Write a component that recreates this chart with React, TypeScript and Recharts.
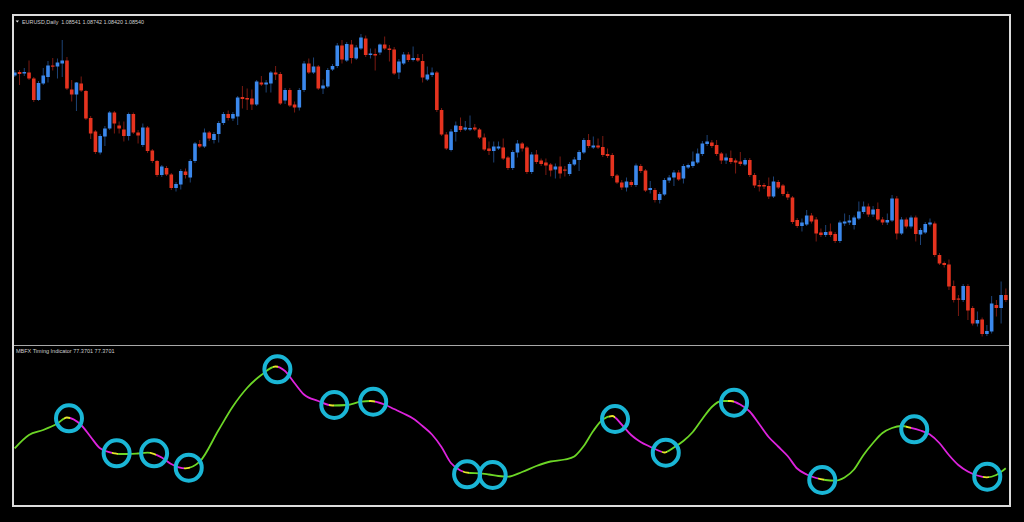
import React from 'react';
import { ComposedChart, Bar, XAxis, YAxis, LineChart, Line, ReferenceDot } from 'recharts';

// ---- EURUSD Daily candles (price) ----
const OPEN = [
1.1303,1.1310,1.1307,1.1309,1.1297,1.1254,1.1287,1.1300,1.1323,1.1321,
1.1327,1.1333,1.1275,1.1265,1.1287,1.1272,1.1218,1.1191,1.1149,1.1181,
1.1197,1.1229,1.1203,1.1195,1.1182,1.1226,1.1189,1.1164,1.1199,1.1153,
1.1132,1.1104,1.1118,1.1105,1.1078,1.1085,1.1111,1.1099,1.1132,1.1166,
1.1161,1.1189,1.1174,1.1186,1.1208,1.1226,1.1217,1.1221,1.1260,1.1258,
1.1257,1.1245,1.1289,1.1285,1.1287,1.1309,1.1306,1.1253,1.1274,1.1245,
1.1239,1.1274,1.1327,1.1309,1.1321,1.1277,1.1281,1.1315,1.1322,1.1363,
1.1333,1.1365,1.1337,1.1357,1.1377,1.1344,1.1346,1.1349,1.1365,1.1357,
1.1355,1.1309,1.1327,1.1345,1.1334,1.1338,1.1332,1.1295,1.1304,1.1309,
1.1234,1.1185,1.1154,1.1190,1.1202,1.1195,1.1195,1.1199,1.1195,1.1179,
1.1157,1.1152,1.1157,1.1159,1.1139,1.1118,1.1149,1.1167,1.1159,1.1110,
1.1145,1.1133,1.1129,1.1125,1.1115,1.1121,1.1115,1.1106,1.1125,1.1134,
1.1149,1.1174,1.1159,1.1163,1.1160,1.1146,1.1144,1.1103,1.1089,1.1079,
1.1090,1.1084,1.1122,1.1113,1.1074,1.1074,1.1054,1.1065,1.1093,1.1099,
1.1109,1.1097,1.1119,1.1122,1.1129,1.1146,1.1166,1.1169,1.1164,1.1147,
1.1133,1.1138,1.1133,1.1131,1.1125,1.1134,1.1104,1.1084,1.1084,1.1082,
1.1061,1.1090,1.1083,1.1066,1.1059,1.1014,1.1002,1.1005,1.1023,1.1015,
1.0989,1.0984,1.0991,1.0986,1.0972,1.1007,1.1009,1.1004,1.1017,1.1030,
1.1041,1.1025,1.1036,1.1015,1.1009,1.1013,1.1057,1.0987,1.1015,1.1001,
1.1019,1.0985,1.0989,1.1005,1.1007,1.0944,1.0928,1.0925,1.0882,1.0857,
1.0854,1.0882,1.0838,1.0807,1.0815,1.0786,1.0791,1.0844,1.0838,1.0864,
];
const HIGH = [
1.1314,1.1314,1.1318,1.1333,1.1300,1.1292,1.1318,1.1332,1.1338,1.1337,
1.1374,1.1340,1.1294,1.1290,1.1301,1.1274,1.1222,1.1194,1.1186,1.1202,
1.1232,1.1232,1.1211,1.1211,1.1229,1.1229,1.1194,1.1207,1.1202,1.1156,
1.1134,1.1124,1.1122,1.1108,1.1090,1.1116,1.1117,1.1136,1.1170,1.1174,
1.1197,1.1192,1.1190,1.1212,1.1230,1.1233,1.1230,1.1262,1.1282,1.1277,
1.1275,1.1294,1.1302,1.1294,1.1312,1.1322,1.1310,1.1278,1.1278,1.1251,
1.1278,1.1332,1.1337,1.1339,1.1324,1.1295,1.1318,1.1326,1.1368,1.1374,
1.1370,1.1374,1.1364,1.1386,1.1383,1.1357,1.1357,1.1367,1.1381,1.1364,
1.1360,1.1336,1.1350,1.1350,1.1361,1.1346,1.1346,1.1321,1.1319,1.1312,
1.1238,1.1190,1.1196,1.1211,1.1219,1.1212,1.1223,1.1206,1.1198,1.1187,
1.1171,1.1171,1.1171,1.1177,1.1142,1.1154,1.1174,1.1170,1.1162,1.1150,
1.1154,1.1137,1.1137,1.1128,1.1127,1.1141,1.1122,1.1130,1.1140,1.1154,
1.1178,1.1186,1.1181,1.1177,1.1182,1.1157,1.1148,1.1106,1.1094,1.1099,
1.1094,1.1127,1.1126,1.1116,1.1092,1.1078,1.1070,1.1098,1.1104,1.1114,
1.1114,1.1126,1.1127,1.1151,1.1157,1.1172,1.1184,1.1174,1.1174,1.1150,
1.1147,1.1153,1.1137,1.1150,1.1138,1.1138,1.1108,1.1094,1.1088,1.1099,
1.1101,1.1094,1.1086,1.1071,1.1062,1.1018,1.1017,1.1034,1.1028,1.1020,
1.0997,1.1004,1.1007,1.0990,1.1013,1.1027,1.1024,1.1023,1.1051,1.1051,
1.1047,1.1042,1.1049,1.1020,1.1027,1.1064,1.1062,1.1020,1.1019,1.1023,
1.1023,1.0998,1.1010,1.1017,1.1011,1.0948,1.0931,1.0935,1.0893,1.0864,
1.0886,1.0886,1.0842,1.0831,1.0819,1.0804,1.0862,1.0854,1.0891,1.0877,
];
const LOW = [
1.1300,1.1284,1.1302,1.1294,1.1250,1.1252,1.1284,1.1289,1.1313,1.1297,
1.1300,1.1274,1.1251,1.1232,1.1270,1.1214,1.1176,1.1146,1.1145,1.1162,
1.1194,1.1187,1.1187,1.1171,1.1173,1.1186,1.1167,1.1160,1.1148,1.1128,
1.1100,1.1100,1.1102,1.1074,1.1071,1.1075,1.1097,1.1089,1.1128,1.1158,
1.1158,1.1172,1.1167,1.1169,1.1204,1.1213,1.1212,1.1204,1.1237,1.1234,
1.1234,1.1242,1.1282,1.1269,1.1269,1.1294,1.1244,1.1246,1.1240,1.1229,
1.1233,1.1270,1.1306,1.1306,1.1274,1.1266,1.1278,1.1312,1.1318,1.1327,
1.1330,1.1327,1.1334,1.1354,1.1340,1.1337,1.1313,1.1344,1.1354,1.1331,
1.1304,1.1296,1.1324,1.1330,1.1331,1.1330,1.1289,1.1292,1.1300,1.1230,
1.1182,1.1154,1.1151,1.1171,1.1190,1.1192,1.1192,1.1192,1.1176,1.1152,
1.1144,1.1129,1.1154,1.1134,1.1114,1.1114,1.1139,1.1151,1.1106,1.1106,
1.1126,1.1122,1.1104,1.1101,1.1097,1.1097,1.1101,1.1102,1.1122,1.1112,
1.1146,1.1158,1.1156,1.1156,1.1140,1.1138,1.1098,1.1086,1.1074,1.1071,
1.1080,1.1080,1.1108,1.1070,1.1067,1.1049,1.1047,1.1062,1.1088,1.1082,
1.1092,1.1087,1.1116,1.1118,1.1126,1.1142,1.1162,1.1158,1.1142,1.1126,
1.1126,1.1126,1.1107,1.1122,1.1122,1.1100,1.1078,1.1071,1.1076,1.1056,
1.1058,1.1076,1.1062,1.1054,1.1006,1.0998,1.0991,1.1002,1.1007,1.0971,
1.0980,1.0980,1.0980,1.0968,1.0968,1.1002,1.1004,1.0995,1.1014,1.1026,
1.1020,1.1020,1.1012,1.1004,1.1004,1.1010,1.0975,1.0984,1.0997,1.0997,
1.0971,1.0964,1.0986,1.1001,1.0940,1.0924,1.0919,1.0874,1.0849,1.0822,
1.0850,1.0814,1.0803,1.0801,1.0781,1.0782,1.0787,1.0821,1.0807,1.0850,
];
const CLOSE = [
1.1309,1.1306,1.1310,1.1297,1.1254,1.1288,1.1303,1.1323,1.1321,1.1329,
1.1333,1.1277,1.1265,1.1289,1.1273,1.1217,1.1187,1.1150,1.1182,1.1197,
1.1229,1.1207,1.1197,1.1182,1.1226,1.1189,1.1183,1.1199,1.1152,1.1132,
1.1104,1.1121,1.1105,1.1078,1.1086,1.1112,1.1104,1.1132,1.1167,1.1161,
1.1189,1.1177,1.1186,1.1208,1.1226,1.1218,1.1226,1.1259,1.1256,1.1255,
1.1245,1.1291,1.1285,1.1289,1.1309,1.1305,1.1247,1.1274,1.1243,1.1239,
1.1274,1.1327,1.1309,1.1321,1.1277,1.1283,1.1314,1.1322,1.1363,1.1335,
1.1366,1.1338,1.1359,1.1379,1.1344,1.1347,1.1343,1.1365,1.1357,1.1354,
1.1307,1.1331,1.1345,1.1334,1.1338,1.1333,1.1299,1.1305,1.1309,1.1234,
1.1185,1.1157,1.1191,1.1203,1.1194,1.1199,1.1198,1.1195,1.1179,1.1155,
1.1152,1.1161,1.1161,1.1137,1.1118,1.1150,1.1167,1.1157,1.1110,1.1145,
1.1130,1.1126,1.1123,1.1113,1.1121,1.1107,1.1113,1.1126,1.1135,1.1150,
1.1174,1.1162,1.1163,1.1159,1.1144,1.1142,1.1102,1.1089,1.1079,1.1091,
1.1084,1.1123,1.1112,1.1073,1.1078,1.1054,1.1066,1.1094,1.1099,1.1109,
1.1095,1.1122,1.1124,1.1131,1.1147,1.1167,1.1171,1.1162,1.1146,1.1133,
1.1139,1.1130,1.1129,1.1126,1.1134,1.1104,1.1083,1.1081,1.1081,1.1061,
1.1091,1.1079,1.1066,1.1059,1.1010,1.1002,1.1009,1.1023,1.1011,1.0987,
1.0984,1.0990,1.0984,1.0972,1.1009,1.1011,1.1013,1.1019,1.1031,1.1041,
1.1025,1.1035,1.1015,1.1009,1.1014,1.1057,1.0987,1.1015,1.1001,1.1019,
1.0986,1.0994,1.1006,1.1009,1.0944,1.0927,1.0924,1.0881,1.0854,1.0855,
1.0882,1.0833,1.0807,1.0814,1.0786,1.0792,1.0847,1.0838,1.0864,1.0854,
];

// ---- MBFX Timing Indicator (bar index, value) ----
const MBFX_IDX = [0,3,6,9,11,14,16,18,21,22,24,26,28,31,33,36,39,43,46,49,52,55,57,59,61,64,67,70,73,75,78,80,82,84,86,88,90,92,94,96,98,100,102,104,107,110,113,116,118,120,122,124,126,128,130,132,134,136,137,139,141,143,145,147,149,151,153,155,157,159,161,163,165,167,169,171,173,175,177,179,181,183,185,187,189,191,193,195,197,199,201,203,205,207,209];
const MBFX_VAL = [87.35,94,96.5,99.75,102.75,99,93.15,87.35,84.85,84.5,84.5,84.75,85.15,82.75,79.5,77.3,80.65,96.5,108.25,117.5,124,128.25,126,120,114.25,111,108.75,109,110.65,111,109.25,107,104.75,102.25,98.5,94.25,88,80,76.25,75,74.85,74.25,73.5,73.15,75.5,78.5,80.75,81.75,83.25,88.5,96,101.75,103.5,99.25,94,90.5,88.15,86,85.25,87.75,91,95.5,102,108,111,111,109.25,105.75,99.5,93,88.25,83.5,77.25,74.25,72.5,71.5,71.15,72.75,76.75,84,90,95,97.5,98.5,97.6,96.25,94.25,90,84,79,75.75,73.75,72.85,74,77.37];
// bar positions where the indicator changes direction (up -> down -> up ...)
const TURN_IDX = [11.3,21.4,29.4,36.6,55.3,67.1,75.6,95.4,126.2,137.3,151.3,170.3,188.8,205.1];
// signal circles
const CIRCLE_IDX = [11.45,21.5,29.4,36.7,55.4,67.4,75.6,95.4,100.8,126.6,137.3,151.7,170.3,189.7,205.1];
const CIRCLE_VAL = [102.35,84.85,84.85,77.65,126.85,109,110.65,74.35,74,102,85.15,110.15,71.5,96.85,73.15];

const SYMBOL_TITLE = 'EURUSD,Daily  1.08541 1.08742 1.08420 1.08540';
const IND_TITLE = 'MBFX Timing Indicator 77.3701 77.3701';

const candles = OPEN.map((o, i) => ({ i, open: o, high: HIGH[i], low: LOW[i], close: CLOSE[i] }));
const mbfx = MBFX_IDX.map((i, k) => ({ i, v: MBFX_VAL[k] }));

const RED = '#e5331f';
const BLUE = '#3b88ec';
const RED_WICK = '#7a1a12';
const BLUE_WICK = '#1d4377';
const GREEN = '#6cd626';
const MAGENTA = '#dd22dd';
const YELLOW = '#e6e62a';
const CYAN = '#1ab6d6';

const W = 1024;
const H = 522;
const ML = 12.33;
const MR = 15.87;

const Candle = (props: any) => {
  const { x, y, width, height, payload } = props;
  if (!payload || x == null || y == null) return null;
  const { open, close, high, low } = payload;
  const top = Math.min(y, y + height);
  const h = Math.abs(height);
  const px = (v: number) => (high === low ? top : top + ((high - v) / (high - low)) * h);
  const up = close >= open;
  const cx = x + width / 2;
  const bt = px(Math.max(open, close));
  const bb = px(Math.min(open, close));
  const bw = 3.6;
  return (
    <g>
      <line x1={cx} x2={cx} y1={top} y2={top + h} stroke={up ? BLUE_WICK : RED_WICK} strokeWidth={1} />
      <rect x={cx - bw / 2} y={bt} width={bw} height={Math.max(bb - bt, 1.2)} fill={up ? BLUE : RED} />
    </g>
  );
};

const lastIdx = MBFX_IDX[MBFX_IDX.length - 1];
const firstIdx = MBFX_IDX[0];
const gradStops: { o: number; c: string }[] = [];
{
  const span = lastIdx - firstIdx;
  let color = GREEN;
  gradStops.push({ o: 0, c: color });
  TURN_IDX.forEach((t) => {
    const next = color === GREEN ? MAGENTA : GREEN;
    const a = Math.max(0, (t - 0.8 - firstIdx) / span);
    const b = Math.min(1, (t + 0.3 - firstIdx) / span);
    gradStops.push({ o: a, c: color });
    gradStops.push({ o: a, c: YELLOW });
    gradStops.push({ o: b, c: YELLOW });
    gradStops.push({ o: b, c: next });
    color = next;
  });
  gradStops.push({ o: 1, c: color });
}

export default function App() {
  return (
    <div style={{ position: 'absolute', left: 0, top: 0, width: W, height: H, background: '#000', overflow: 'hidden' }}>
      <div style={{ position: 'absolute', left: 0, top: 0 }}>
        <ComposedChart width={W} height={345} data={candles} margin={{ top: 0, right: MR, bottom: 0, left: ML }}>
          <XAxis dataKey="i" hide />
          <YAxis hide type="number" domain={[1.0764, 1.1454]} allowDataOverflow />
          <Bar dataKey={(d: any) => [d.low, d.high]} shape={Candle} isAnimationActive={false} />
        </ComposedChart>
      </div>
      <div style={{ position: 'absolute', left: 0, top: 0 }}>
        <LineChart width={W} height={H} data={mbfx} margin={{ top: 347, right: MR, bottom: 17, left: ML }}>
          <defs>
            <linearGradient id="mbfxGrad" x1="0" y1="0" x2="1" y2="0">
              {gradStops.map((s, k) => (
                <stop key={k} offset={s.o} stopColor={s.c} />
              ))}
            </linearGradient>
          </defs>
          <XAxis dataKey="i" type="number" domain={[-0.5, 209.5]} hide allowDataOverflow />
          <YAxis hide type="number" domain={[59, 138]} allowDataOverflow />
          <Line type="monotone" dataKey="v" stroke="url(#mbfxGrad)" strokeWidth={1.8} dot={false} isAnimationActive={false} />
          {CIRCLE_IDX.map((ci, k) => (
            <ReferenceDot key={k} x={ci} y={CIRCLE_VAL[k]} r={13} fill="none" stroke={CYAN} strokeWidth={4} ifOverflow="visible" />
          ))}
        </LineChart>
      </div>
      <svg width={W} height={H} style={{ position: 'absolute', left: 0, top: 0, pointerEvents: 'none' }}>
        <rect x={13} y={15} width={997} height={491} fill="none" stroke="#dcdcdc" strokeWidth={2} />
        <line x1={14} x2={1009} y1={345.5} y2={345.5} stroke="#a8a8a8" strokeWidth={1} />
        <polygon points="15.6,20.6 19,20.6 17.3,22.6" fill="#e0e0e0" />
        <text x={22} y={24.2} fontSize={5.6} fill="#cfcfcf" fontFamily="'Liberation Sans', Arial, sans-serif" textLength={122} lengthAdjust="spacingAndGlyphs" xmlSpace="preserve">{SYMBOL_TITLE}</text>
        <text x={16} y={352.8} fontSize={5.6} fill="#cfcfcf" fontFamily="'Liberation Sans', Arial, sans-serif" textLength={98.5} lengthAdjust="spacingAndGlyphs">{IND_TITLE}</text>
      </svg>
    </div>
  );
}
